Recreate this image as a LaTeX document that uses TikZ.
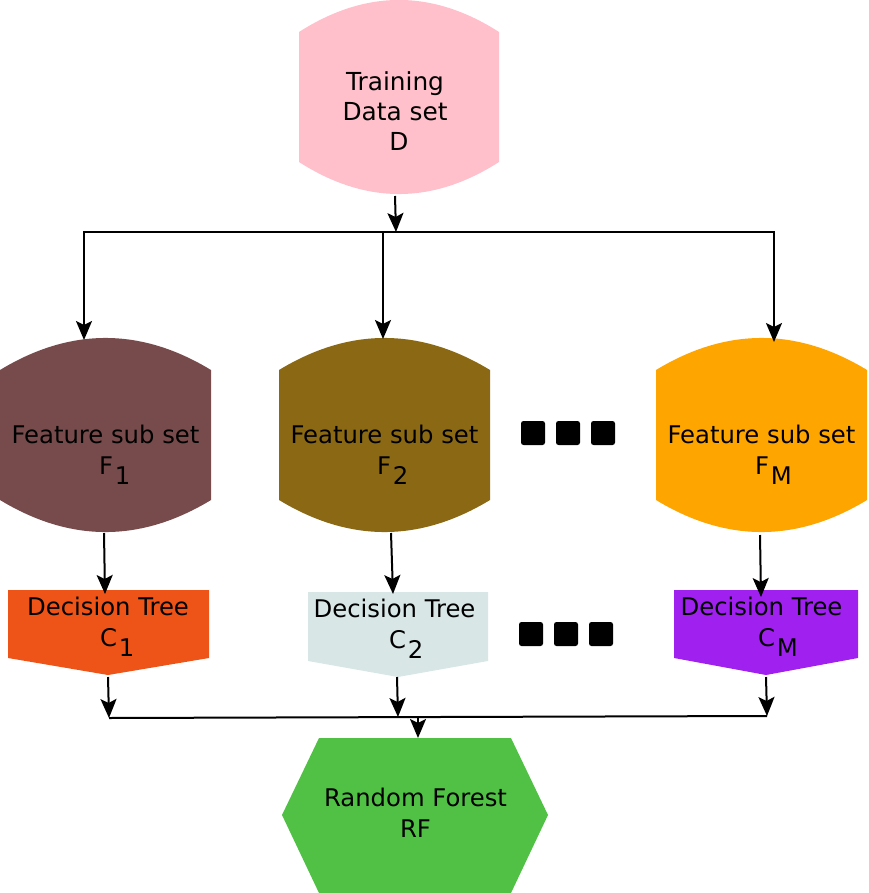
\documentclass[tikz,border=0pt]{standalone}
\usepackage{fontspec}
\setmainfont{DejaVu Sans}
\usetikzlibrary{arrows.meta}
\definecolor{cpink}{HTML}{FFC0CB}
\definecolor{cbrown}{HTML}{774B4B}
\definecolor{cgold}{HTML}{8B6914}
\definecolor{corange}{HTML}{FFA500}
\definecolor{cred}{HTML}{EE5317}
\definecolor{cpale}{HTML}{D8E6E6}
\definecolor{cpurple}{HTML}{A020F0}
\definecolor{cgreen}{HTML}{50C145}
\newcommand{\subtxt}[3]{\makebox[0pt][l]{\hspace*{#1}#2\hspace{2pt}\raisebox{-10pt}{#3}}}
\begin{document}
\begin{tikzpicture}[x=1pt,y=-1pt,
  conn/.style={line width=2pt},
  arr/.style={line width=2pt,-{Stealth[length=19pt,width=16pt,inset=4pt]}},
  lbl/.style={anchor=base,inner sep=0pt,font=\fontsize{24.3}{31}\selectfont},
  dotsq/.style={fill=black,rounded corners=2.5pt}]
\useasboundingbox (0,0) rectangle (868,893);
% shapes
\fill[cpink] (299,32) .. controls (365.7,-10.7) and (432.3,-10.7) .. (499,32) -- (499,162)
  .. controls (432.3,204.7) and (365.7,204.7) .. (299,162) -- cycle;
\foreach \L/\c in {0/cbrown,279/cgold,656/corange}{
  \fill[\c] (\L,370) .. controls (\L+70.3,327.3) and (\L+140.7,327.3) .. (\L+211,370) -- (\L+211,500)
  .. controls (\L+140.7,542.7) and (\L+70.3,542.7) .. (\L,500) -- cycle;}
\fill[cred] (8,590) -- (209,590) -- (209,658) -- (108,675) -- (8,658) -- cycle;
\fill[cpale] (308,592) -- (488,592) -- (488,661) -- (398,677) -- (308,661) -- cycle;
\fill[cpurple] (674,590) -- (858,590) -- (858,658) -- (766,675) -- (674,658) -- cycle;
\fill[cgreen] (282,815) -- (319,738) -- (511,738) -- (548,815) -- (511,893) -- (319,893) -- cycle;
% dots
\foreach \x in {521,556,591}{\fill[dotsq] (\x,421) rectangle (\x+24,445);}
\foreach \x in {519,554,589}{\fill[dotsq] (\x,622) rectangle (\x+24,646);}
% labels
\node[lbl,font=\fontsize{24.8}{30}\selectfont] (td) at (395,90.7) {\begin{tabular}[t]{@{}c@{}}Training\\Data set\\\hspace*{8pt}D\end{tabular}};
\node[lbl] (f1) at (105.5,443) {\begin{tabular}[t]{@{}c@{}}Feature sub set\\\subtxt{-6.5pt}{F}{1}\end{tabular}};
\node[lbl] (f2) at (384.5,443) {\begin{tabular}[t]{@{}c@{}}Feature sub set\\\subtxt{-7.5pt}{F}{2}\end{tabular}};
\node[lbl] (fm) at (761.5,443) {\begin{tabular}[t]{@{}c@{}}Feature sub set\\\subtxt{-6.5pt}{F}{M}\end{tabular}};
\node[lbl] (c1) at (108,615) {\begin{tabular}[t]{@{}c@{}}Decision Tree\\\subtxt{-8pt}{C}{1}\end{tabular}};
\node[lbl] (c2) at (394.5,617) {\begin{tabular}[t]{@{}c@{}}Decision Tree\\\subtxt{-5.5pt}{C}{2}\end{tabular}};
\node[lbl] (cm) at (761.5,615) {\begin{tabular}[t]{@{}c@{}}Decision Tree\\\subtxt{-3.5pt}{C}{M}\end{tabular}};
\node[lbl] (rf) at (415.5,806) {\begin{tabular}[t]{@{}c@{}}Random Forest\\RF\end{tabular}};
% connection points
\coordinate (tdb) at (395,196);
\coordinate (bus1) at (396,232);
\coordinate (busL) at (83,232);
\coordinate (busR) at (775,232);
\coordinate (bx1) at (84,232);
\coordinate (bx2) at (383,232);
\coordinate (bx3) at (774,232);
\coordinate (f1t) at (84,340);
\coordinate (f2t) at (383,339);
\coordinate (fmt) at (774,342);
\coordinate (f1b) at (104,533);
\coordinate (f2b) at (391,533);
\coordinate (fmb) at (760,535);
\coordinate (c1t) at (105,594);
\coordinate (c2t) at (393,594);
\coordinate (cmt) at (761,597);
\coordinate (c1b) at (108,677);
\coordinate (c2b) at (397,677);
\coordinate (cmb) at (766,677);
\coordinate (b1) at (109,718);
\coordinate (b2) at (398,717);
\coordinate (b3) at (767,716);
\coordinate (bm) at (418,717);
\coordinate (rft) at (418,738);
% connectors
\draw[arr] (tdb) -- (bus1);
\draw[conn] (busL) -- (busR);
\draw[arr] (bx1) -- (f1t);
\draw[arr] (bx2) -- (f2t);
\draw[arr] (bx3) -- (fmt);
\draw[arr] (f1b) -- (c1t);
\draw[arr] (f2b) -- (c2t);
\draw[arr] (fmb) -- (cmt);
\draw[arr] (c1b) -- (b1);
\draw[arr] (c2b) -- (b2);
\draw[arr] (cmb) -- (b3);
\draw[conn] (b1) -- (b3);
\draw[arr] (bm) -- (rft);
\end{tikzpicture}
\end{document}
